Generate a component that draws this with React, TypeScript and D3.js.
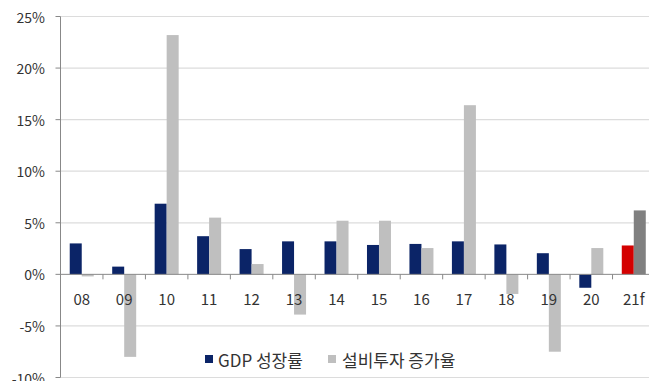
import React from "react";
import * as d3 from "d3";

const categories = ["08", "09", "10", "11", "12", "13", "14", "15", "16", "17", "18", "19", "20", "21f"];
const gdpGrowth = [3.0, 0.75, 6.85, 3.7, 2.45, 3.2, 3.2, 2.85, 2.95, 3.2, 2.9, 2.05, -1.3, 2.8];
const capexGrowth = [-0.2, -8.0, 23.2, 5.5, 1.0, -3.9, 5.2, 5.2, 2.55, 16.4, -1.9, -7.5, 2.55, 6.2];
const yTicks = [-10, -5, 0, 5, 10, 15, 20, 25];
const legendLabels = ["GDP 성장률", "설비투자 증가율"];

const W = 649;
const H = 381;
const left = 60.5;
const right = 655;
const top = 16.5;
const bottom = 377.5;

const NAVY = "#0b2467";
const GRAY = "#bfbfbf";
const RED = "#d40000";
const DARKGRAY = "#808080";
const FONT = "'Noto Sans CJK KR', 'Noto Sans', sans-serif";

export default function App() {
  const x = d3.scaleBand<string>().domain(categories).range([left, right]).paddingInner(0).paddingOuter(0);
  const y = d3.scaleLinear().domain([-10, 25]).range([bottom, top]);
  const bw = 12;
  const last = categories.length - 1;

  return (
    <svg width={W} height={H} style={{ position: "absolute", left: 0, top: 0, background: "#fff" }}>
      {yTicks.map((t) => (
        <g key={t}>
          {t !== 0 && (
            <line x1={left} x2={W} y1={y(t)} y2={y(t)} stroke="#dcdcdc" strokeWidth={1.2} />
          )}
          <line x1={left - 5} x2={left} y1={y(t)} y2={y(t)} stroke="#888" strokeWidth={1} />
          <text
            x={45}
            y={y(t)}
            textAnchor="end"
            dominantBaseline="central"
            fontFamily={FONT}
            fontSize={14}
            fill="#333"
          >
            {t}%
          </text>
        </g>
      ))}
      {categories.map((c, i) => {
        const cx = (x(c) as number) + x.bandwidth() / 2;
        const g = gdpGrowth[i];
        const k = capexGrowth[i];
        return (
          <g key={c}>
            <rect
              x={cx - bw}
              y={Math.min(y(g), y(0))}
              width={bw}
              height={Math.abs(y(g) - y(0))}
              fill={i === last ? RED : NAVY}
            />
            <rect
              x={cx}
              y={Math.min(y(k), y(0))}
              width={bw}
              height={Math.abs(y(k) - y(0))}
              fill={i === last ? DARKGRAY : GRAY}
            />
            <text
              x={cx}
              y={298}
              textAnchor="middle"
              dominantBaseline="central"
              fontFamily={FONT}
              fontSize={15}
              fill="#333"
            >
              {c}
            </text>
          </g>
        );
      })}
      {/* zero axis */}
      <line x1={left} x2={W} y1={y(0)} y2={y(0)} stroke="#888" strokeWidth={1} />
      {categories.map((c, i) =>
        i === 0 ? null : (
          <line
            key={"t" + c}
            x1={x(c) as number}
            x2={x(c) as number}
            y1={y(0)}
            y2={y(0) + 5}
            stroke="#888"
            strokeWidth={1}
          />
        )
      )}
      {/* y axis */}
      <line x1={left} x2={left} y1={top} y2={bottom} stroke="#888" strokeWidth={1} />
      {/* legend */}
      <g fontFamily={FONT} fontSize={17} fill="#333">
        <rect x={205} y={355} width={8} height={8} fill={NAVY} />
        <text x={218} y={359} dominantBaseline="central">{legendLabels[0]}</text>
        <rect x={328} y={355} width={8} height={8} fill={GRAY} />
        <text x={342} y={359} dominantBaseline="central">{legendLabels[1]}</text>
      </g>
    </svg>
  );
}
